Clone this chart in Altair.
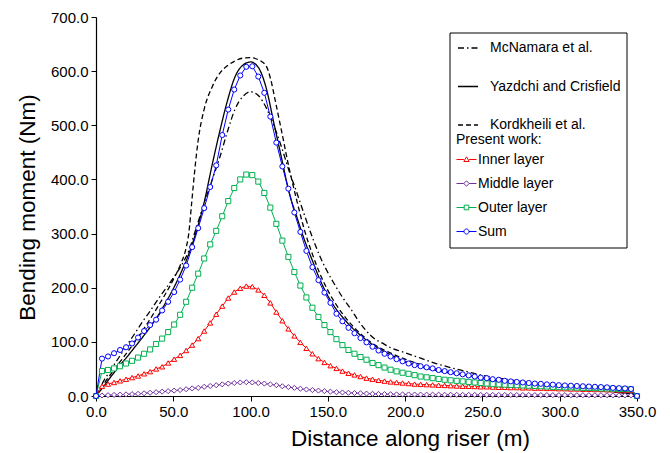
import altair as alt
import pandas as pd

FONT = "Liberation Sans"

# sampling stations along the riser (m)
x_grid = [round(i * 350 / 90, 2) for i in range(91)]

inner = [
    0, 18, 22, 25, 28, 31, 34, 37, 41, 45,
    50, 54, 61, 68, 75, 84, 94, 106, 120, 135,
    151, 166, 181, 192, 199, 203, 202, 196, 186, 172,
    155, 139, 124, 111, 99, 88, 78, 69, 62, 56,
    51, 46, 42, 39, 36, 33, 31, 29, 27.5, 26,
    25, 24, 23, 22, 21.5, 21, 20.5, 20, 19.5, 19,
    18.5, 18, 18, 17.5, 17, 17, 16.5, 16, 16, 15.5,
    15.5, 15, 15, 14.5, 14.5, 14, 14, 13.5, 13.5, 13,
    13, 12.5, 12.5, 12, 12, 11.5, 11.5, 11, 11, 10.5,
    0]

middle = [
    0, 1, 1.5, 2, 2.5, 3, 3.5, 4, 5, 6,
    7, 8, 9, 10, 11, 12.5, 14, 15, 17, 18.5,
    20, 21.5, 23, 24, 25, 25.5, 25, 24, 23, 21.5,
    20, 18, 16.5, 15, 13.5, 12, 11, 10, 9, 8,
    7, 6.5, 6, 5.5, 5, 4.5, 4, 3.8, 3.5, 3.3,
    3, 2.9, 2.8, 2.7, 2.6, 2.5, 2.5, 2.4, 2.3, 2.3,
    2.2, 2.2, 2.1, 2.1, 2, 2, 2, 1.9, 1.9, 1.9,
    1.8, 1.8, 1.8, 1.7, 1.7, 1.7, 1.6, 1.6, 1.6, 1.5,
    1.5, 1.5, 1.5, 1.4, 1.4, 1.4, 1.3, 1.3, 1.3, 1.2,
    0]

outer = [
    0, 46, 48, 51, 55, 60, 65, 71, 78, 86,
    96, 106, 118, 132, 150, 174, 200, 226, 254, 280,
    305, 332, 360, 384, 400, 409, 408, 396, 375, 348,
    318, 287, 257, 229, 204, 182, 163, 146, 131, 118,
    105, 94, 85, 78, 72, 67, 61, 57, 52.5, 48.5,
    45.5, 43, 41, 38.5, 36, 34.5, 33, 31.5, 30, 29,
    28, 27, 26, 25, 24, 23, 22, 21.5, 21, 20.5,
    20, 19.5, 19, 18.5, 18, 17.5, 17, 16.5, 16, 16,
    15.5, 15, 15, 14.5, 14, 14, 13.5, 13, 13, 12.5,
    0]

total = [
    0, 69, 73, 79, 85, 90, 97, 108, 120, 131,
    141, 158, 174, 192, 215, 241, 275, 310, 347, 386,
    426, 482, 529, 566, 592, 608, 609, 590, 560, 516,
    468, 424, 383, 339, 303, 268, 238, 214, 191, 172,
    152, 138, 126, 116, 107, 99, 91, 84, 78, 73,
    68, 64, 60, 57, 55, 53, 51, 48, 46, 44,
    42, 40, 38, 36, 34, 33, 31, 30, 28, 27,
    26, 25, 24, 23, 22.5, 21.5, 21, 20, 19.5, 19,
    18.5, 18, 17.5, 17, 16.5, 16, 15, 14.5, 14, 13,
    0]

mcn_x = [0, 5, 10, 15, 20, 25, 30, 35, 40, 45, 50, 55, 60, 65, 70, 75, 80, 85, 90, 95,
         100, 105, 110, 115, 120, 125, 130, 135, 140, 145, 150, 155, 160, 165, 170, 175,
         180, 185, 190, 200, 210, 220, 230, 240, 250, 260, 270, 280, 290, 300, 310, 320,
         330, 340, 350]
mcn_y = [0, 28, 50, 72, 94, 115, 137, 157, 178, 198, 218, 240, 268, 312, 356, 398, 440, 488, 530, 553,
         562, 555, 533, 500, 460, 415, 375, 333, 293, 257, 228, 203, 180, 160, 138, 120,
         106, 98, 90, 80, 70, 60, 52, 45, 38, 33, 29, 25, 22, 19, 16, 13,
         10, 6, 3]

yaz_x = [0, 5, 10, 15, 20, 25, 30, 35, 40, 45, 50, 55, 60, 65, 70, 75, 80, 85, 90, 95,
         100, 105, 110, 115, 120, 125, 130, 135, 140, 145, 150, 155, 160, 165, 170, 175,
         180, 185, 190, 195, 200, 210, 220, 230, 240, 250, 260, 270, 280, 290, 300, 310,
         320, 330, 340, 350]
yaz_y = [0, 18, 37, 55, 72, 90, 108, 127, 148, 172, 198, 228, 262, 305, 358, 425, 488, 545, 590, 611,
         617, 607, 570, 505, 440, 375, 330, 287, 250, 214, 185, 162, 144, 128, 115, 103,
         93, 84, 77, 70, 64, 54, 47, 42, 38, 32, 27, 23, 20, 18, 17, 15,
         12, 10, 7, 2]

kor_x = [0, 5, 10, 20, 30, 40, 50, 55, 58, 60, 62, 64, 66, 70, 75, 80, 85, 90, 95, 100,
         105, 110, 113, 116, 120, 125, 130, 135, 140, 145, 150, 160, 170, 180, 190, 200,
         210, 220, 230, 240, 250, 260, 270, 280, 290, 300, 320, 340, 350]
kor_y = [0, 22, 42, 80, 120, 165, 215, 245, 270, 300, 360, 420, 470, 530, 570, 596, 610, 619, 624, 625,
         621, 610, 585, 545, 490, 420, 360, 305, 262, 225, 195, 150, 118, 95, 80, 68,
         58, 50, 44, 38, 34, 29, 25, 22, 19, 16, 11, 6, 2]

series_names = ["Inner layer", "Middle layer", "Outer layer", "Sum"]
series_colors = ["#FF0000", "#7030A0", "#00B050", "#0000FF"]
series_shapes = ["triangle-up", "diamond", "square", "circle"]
legend_paths = [
    "M-1,0H-0.26M0.26,0H1M0,-0.27L0.27,0.2L-0.27,0.2Z",
    "M-1,0H-0.27M0.27,0H1M0,-0.27L0.27,0L0,0.27L-0.27,0Z",
    "M-1,0H-0.23M0.23,0H1M-0.23,-0.23H0.23V0.23H-0.23Z",
    "M-1,0H-0.25M0.25,0H1M0.25,0A0.25,0.25,0,1,1,-0.25,0A0.25,0.25,0,1,1,0.25,0Z",
]
ref_names = ["McNamara et al.", "Yazdchi and Crisfield", "Kordkheili et al."]

rows = []
for name, vals in zip(series_names, [inner, middle, outer, total]):
    for xv, yv in zip(x_grid, vals):
        rows.append({"x": xv, "v": yv, "series": name})
sdf = pd.DataFrame(rows)

rrows = []
for name, xs, ys in zip(ref_names, [mcn_x, yaz_x, kor_x], [mcn_y, yaz_y, kor_y]):
    for xv, yv in zip(xs, ys):
        rrows.append({"x": xv, "v": yv, "src": name})
rdf = pd.DataFrame(rrows)

xenc = alt.X("x:Q", scale=alt.Scale(domain=[0, 350], nice=False),
             axis=alt.Axis(values=[0, 50, 100, 150, 200, 250, 300, 350], format=".1f",
                           title="Distance along riser (m)", labelFlush=False,
                           titleX=314, titleY=42, titleAlign="center", titleBaseline="middle"))
yenc = alt.Y("v:Q", scale=alt.Scale(domain=[0, 700], nice=False),
             axis=alt.Axis(values=[0, 100, 200, 300, 400, 500, 600, 700], format=".1f",
                           title="Bending moment (Nm)", labelFlush=False,
                           titleX=-69, titleY=190, titleAngle=270, titleAlign="center",
                           titleBaseline="middle"))

stroke_scale = alt.Scale(domain=series_names, range=series_colors)

box = alt.Chart(pd.DataFrame({"a": [0]})).mark_rect(
    fill="white", stroke="black", strokeWidth=1
).encode(x=alt.value(354), x2=alt.value(531), y=alt.value(16), y2=alt.value(231))

ref = alt.Chart(rdf).mark_line(color="black", strokeWidth=1.3, interpolate="monotone").encode(
    x=xenc, y=yenc,
    strokeDash=alt.StrokeDash(
        "src:N",
        scale=alt.Scale(domain=ref_names, range=[[6, 3, 1.5, 3], [1, 0], [5, 3]]),
        legend=alt.Legend(title=None, orient="none", legendX=361, legendY=20,
                          symbolType="stroke", symbolSize=400, symbolStrokeWidth=1.3,
                          symbolStrokeColor="black", labelFontSize=14, labelFont=FONT,
                          labelColor="black", labelOffset=11, rowPadding=20.5, padding=0),
    ),
)

slines = alt.Chart(sdf).mark_line(strokeWidth=1).encode(
    x=xenc, y=yenc,
    stroke=alt.Stroke("series:N", scale=stroke_scale, legend=None),
)

spoints = alt.Chart(sdf).mark_point(filled=True, fill="white", strokeWidth=1, size=26, opacity=1).encode(
    x=xenc, y=yenc,
    stroke=alt.Stroke("series:N", scale=stroke_scale, legend=None),
    shape=alt.Shape("series:N", scale=alt.Scale(domain=series_names, range=series_shapes), legend=None),
)

leg_common = dict(title="Present work:", orient="none", legendX=360, legendY=116,
                  titleFontSize=14, titleFont=FONT, titleFontWeight="normal", titleColor="black",
                  titlePadding=2, labelFontSize=14, labelFont=FONT, labelColor="black",
                  labelOffset=1, symbolSize=400, symbolStrokeWidth=1, symbolFillColor="white",
                  symbolOpacity=1, rowPadding=6, padding=0, offset=0)

dummy = alt.Chart(sdf).transform_filter("false").mark_point(
    filled=True, fill="white", strokeWidth=1, opacity=1
).encode(
    x=xenc, y=yenc,
    stroke=alt.Stroke("series:N", scale=stroke_scale, legend=alt.Legend(**leg_common)),
    shape=alt.Shape("series:N", scale=alt.Scale(domain=series_names, range=legend_paths),
                    legend=alt.Legend(**leg_common)),
)

chart = alt.layer(box, ref, slines, spoints, dummy).resolve_scale(
    stroke="independent", shape="independent"
).properties(
    width=541, height=379,
    padding={"left": 96, "top": 17, "right": 33, "bottom": 57},
    autosize=alt.AutoSizeParams(type="none"),
).configure_view(stroke=None).configure_axis(
    grid=False, domainColor="black", domainWidth=1.2, tickColor="black", tickSize=5,
    labelColor="black", labelFont=FONT, labelFontSize=15, titleFont=FONT,
    titleFontSize=22.5, titleFontWeight="normal", titleColor="black",
).configure_axisX(labelPadding=3).configure_axisY(labelPadding=3)

chart.save("out.html", embed_options={"renderer": "svg", "actions": False})
